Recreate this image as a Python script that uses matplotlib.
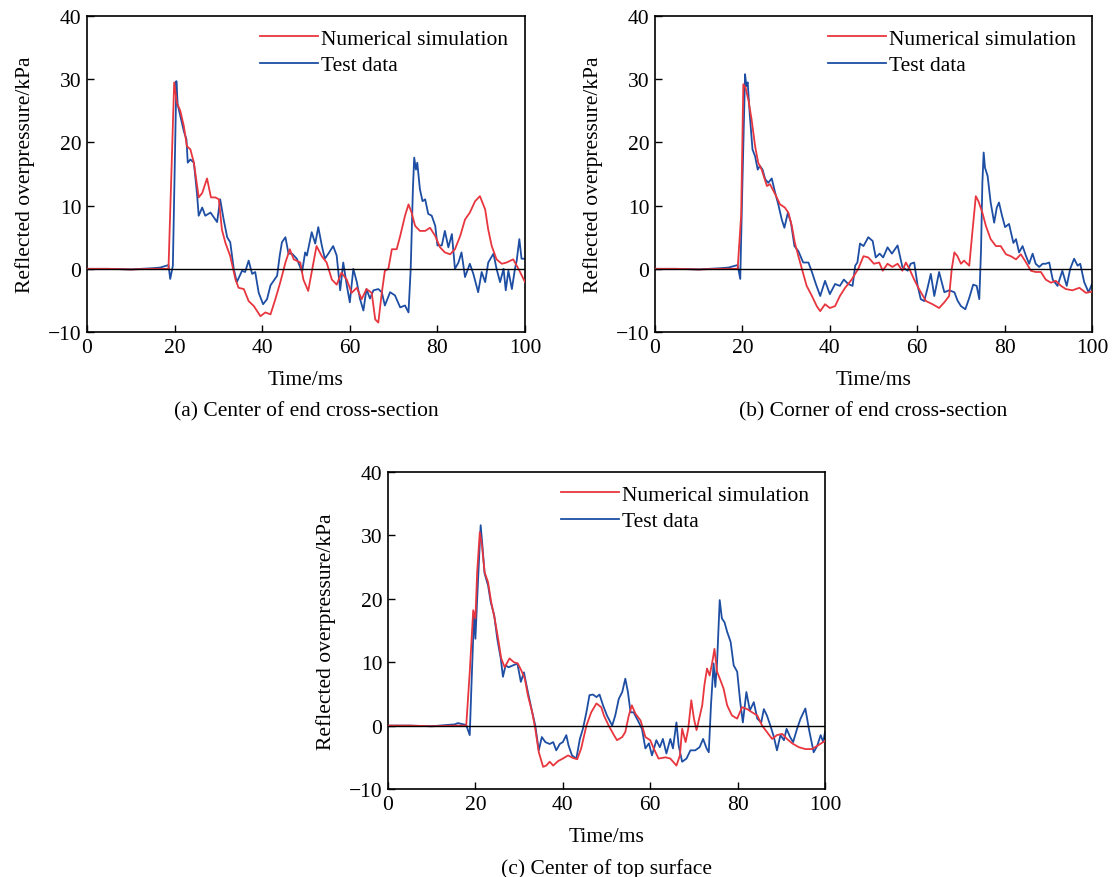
import matplotlib
matplotlib.use("Agg")
import matplotlib.pyplot as plt

plt.rcParams["font.family"] = ["Liberation Serif", "DejaVu Serif"]
plt.rcParams["font.size"] = 15.5

RED = "#e8363e"
BLUE = "#1d4ea3"

# (a) centre of end cross-section
t_a_sim = [0, 5, 10, 15, 18.6, 19.9, 20.5, 21.3, 22.1, 22.8, 23.6, 24.4, 25.5, 26.3, 27.4,
           28.3, 29.3, 30.1, 30.8, 31.6, 32.7, 33.9, 34.6, 35.8, 36.9, 38.1, 39.6, 40.7,
           41.9, 43.0, 44.1, 45.3, 46.3, 47.2, 48.7, 49.4, 50.5, 51.7, 52.4, 53.6, 54.7,
           55.9, 57.0, 58.1, 59.3, 60.4, 61.6, 62.7, 63.8, 65.0, 65.8, 66.5, 67.3, 68.0,
           68.8, 69.6, 70.7, 71.5, 72.6, 73.4, 74.1, 74.9, 76.0, 77.2, 78.3, 79.5, 80.6,
           81.7, 82.9, 84.0, 85.2, 86.3, 87.4, 88.6, 89.7, 90.9, 91.6, 92.4, 93.5, 94.7,
           95.8, 97.3, 98.5, 100]
p_a_sim = [0, 0, -0.1, 0, 0, 29.5, 26.3, 25.0, 22.6, 19.4, 18.9, 16.8, 11.3, 12.0, 14.3,
           11.3, 11.3, 11.0, 6.2, 4.1, 2.0, -1.7, -3.0, -3.2, -5.1, -5.9, -7.5, -6.9,
           -7.2, -4.8, -2.2, 1.0, 3.1, 1.5, 1.0, -1.7, -3.5, 1.0, 3.6, 2.0, 1.0,
           -1.7, -2.5, -0.6, -1.7, -3.8, -3.0, -4.8, -3.2, -3.8, -8.0, -8.5, -3.8, -0.3,
           0.0, 3.1, 3.1, 5.2, 8.4, 10.2, 8.9, 6.8, 6.0, 6.0, 6.5, 5.2, 3.4,
           2.6, 2.3, 3.1, 5.2, 7.8, 8.9, 10.7, 11.5, 9.4, 6.2, 3.6, 1.5, 0.8,
           1.0, 1.5, 0.0, -2.1]
t_a_test = [0, 5, 10, 15, 16.7, 18.6, 19.0, 19.6, 20.4, 20.7, 21.3, 22.1, 22.7, 23.0, 23.6,
            24.4, 25.1, 25.5, 26.3, 27.0, 28.2, 28.9, 29.7, 30.4, 31.2, 32.0, 32.7, 33.5,
            34.2, 35.4, 36.1, 36.9, 37.7, 38.4, 39.2, 40.2, 41.1, 41.9, 42.6, 43.4, 44.0,
            44.5, 45.3, 46.0, 46.8, 47.9, 49.1, 49.8, 50.2, 51.3, 52.1, 52.8, 53.6, 54.3,
            55.1, 56.2, 57.0, 57.8, 58.5, 59.3, 60.0, 60.8, 61.6, 62.3, 63.1, 63.8, 64.6,
            65.4, 66.5, 67.3, 68.0, 69.2, 70.3, 71.5, 72.6, 73.4, 73.9, 74.4, 74.7, 75.1,
            75.4, 76.0, 76.6, 77.2, 77.9, 78.7, 79.5, 80.0, 81.0, 81.7, 82.5, 83.3, 84.0,
            84.8, 85.5, 86.3, 87.4, 88.2, 89.3, 90.1, 90.9, 91.6, 92.8, 93.5, 94.3, 95.1,
            95.6, 96.2, 97.0, 97.7, 98.1, 98.7, 99.2, 100]
p_a_test = [0, 0, -0.1, 0.1, 0.2, 0.6, -1.6, 0.5, 29.7, 26.0, 24.2, 21.8, 20.5, 16.8, 17.3,
            16.8, 12.0, 8.4, 9.7, 8.4, 8.9, 8.2, 7.4, 11.0, 7.8, 5.0, 4.2, 0.0,
            -2.1, -0.3, -0.5, 1.3, -0.8, -0.5, -3.8, -5.6, -4.8, -2.6, -1.9, -1.1, 2.1,
            4.2, 5.0, 2.4, 2.4, 1.6, -0.5, 2.6, 2.1, 5.8, 4.0, 6.6, 3.7, 1.6,
            2.4, 3.6, 2.1, -3.4, 1.0, -2.6, -5.3, 0.0, -2.1, -4.7, -6.6, -3.2, -4.7,
            -3.4, -3.2, -3.7, -5.8, -3.7, -4.2, -6.1, -5.8, -6.9, 0.0, 12.6, 17.6, 15.7,
            16.8, 12.6, 10.7, 11.0, 8.7, 8.4, 6.8, 3.7, 3.7, 6.0, 3.4, 5.5, 0.0,
            1.0, 2.6, -1.3, 0.8, -0.8, -3.7, -0.5, -2.1, 1.0, 2.4, 0.0, -2.1, 0.0,
            -3.4, -0.3, -3.2, 0.0, 1.3, 4.7, 1.6, 1.6]

# (b) corner of end cross-section
t_b_sim = [0, 5, 10, 15, 18.9, 19.7, 20.2, 20.7, 21.4, 22.1, 22.9, 23.6, 24.4, 25.6, 26.3,
           27.5, 28.6, 29.7, 30.5, 31.3, 32.0, 32.8, 33.6, 34.7, 35.9, 37.0, 37.8, 38.9,
           40.0, 41.2, 42.3, 43.5, 45.0, 46.5, 47.7, 48.8, 50.1, 51.3, 52.1, 53.2, 54.3,
           55.5, 56.6, 57.4, 58.2, 59.3, 60.4, 62.0, 63.5, 65.0, 66.2, 67.3, 67.9, 68.5,
           69.2, 70.0, 70.7, 71.9, 72.6, 73.4, 74.0, 74.9, 75.7, 76.8, 78.0, 79.1, 80.3,
           81.4, 82.6, 83.7, 84.9, 86.0, 87.1, 88.3, 89.4, 90.6, 91.7, 92.9, 94.0, 95.5,
           97.1, 98.6, 100]
p_b_sim = [0, 0, -0.1, 0, 0, 8.4, 29.2, 28.7, 26.6, 23.6, 19.4, 16.8, 15.7, 13.1, 13.4,
           11.8, 10.2, 9.7, 8.9, 6.8, 4.1, 2.0, 0.0, -2.7, -4.3, -5.9, -6.7, -5.6,
           -6.2, -5.9, -4.3, -3.0, -1.7, 0.0, 2.0, 1.8, 0.8, 1.0, -0.3, 0.8, 0.3,
           0.8, -0.3, 1.0, 0.0, -1.7, -3.2, -5.1, -5.6, -6.2, -5.3, -4.3, 0.0, 2.6,
           2.0, 0.8, 1.3, 0.5, 5.7, 11.5, 10.7, 8.9, 6.8, 4.7, 3.6, 3.6, 2.3,
           2.0, 1.5, 2.3, 1.0, -0.3, -0.5, -0.5, -1.7, -2.2, -1.9, -2.7, -3.2, -3.4,
           -3.0, -3.8, -3.6]
t_b_test = [0, 5, 10, 15, 16.8, 18.9, 19.5, 20.0, 20.6, 20.9, 21.2, 21.7, 22.3, 22.9, 23.5,
            24.0, 24.6, 25.2, 25.9, 26.7, 27.5, 28.2, 29.0, 29.6, 30.4, 31.1, 31.9, 32.8,
            33.9, 35.1, 35.9, 36.8, 37.8, 38.9, 40.0, 41.2, 42.3, 43.2, 44.2, 45.2, 45.8,
            46.3, 46.9, 47.7, 48.8, 49.8, 50.5, 51.4, 52.2, 53.2, 54.2, 55.5, 56.6, 57.8,
            58.5, 59.3, 60.1, 60.8, 61.6, 62.3, 63.1, 63.9, 65.0, 66.2, 67.3, 68.5, 69.2,
            70.0, 71.0, 71.9, 72.8, 73.6, 74.2, 74.6, 74.9, 75.2, 75.5, 76.1, 76.8, 77.6,
            78.2, 78.7, 79.4, 80.1, 81.0, 82.0, 82.6, 83.3, 84.1, 84.9, 85.6, 86.4, 87.1,
            87.9, 88.7, 89.4, 90.2, 91.0, 92.1, 93.2, 94.2, 95.0, 95.9, 96.7, 97.3, 98.2,
            99.2, 100]
p_b_test = [0, 0, -0.1, 0.1, 0.2, 0.6, -1.6, 13.7, 30.8, 28.9, 29.5, 24.2, 18.9, 17.8, 15.7,
            16.3, 15.7, 14.2, 13.6, 14.3, 12.0, 10.2, 7.8, 6.5, 8.9, 7.3, 3.6, 2.8,
            1.0, 1.0, -0.5, -2.4, -4.3, -1.9, -4.0, -2.4, -2.7, -1.7, -2.4, -2.7, 0.5,
            1.0, 4.0, 3.6, 5.0, 4.4, 1.8, 2.4, 1.8, 3.4, 2.4, 3.7, 0.3, -0.3,
            0.8, 1.0, -2.7, -4.8, -5.1, -3.2, -0.8, -4.3, -0.5, -3.7, -3.4, -3.7, -5.0,
            -5.9, -6.4, -4.6, -2.5, -2.7, -4.8, 3.1, 13.6, 18.4, 16.0, 14.7, 10.5, 7.3,
            9.7, 10.5, 8.4, 6.6, 7.1, 4.1, 4.7, 2.6, 3.6, 2.0, 0.8, 2.4, 0.8,
            0.3, 0.8, 0.8, 1.0, -1.7, -2.7, -0.3, -2.7, 0.0, 1.6, 0.5, 0.8, -2.1,
            -3.7, -2.4]

# (c) centre of top surface
t_c_sim = [0, 5, 10, 15, 17.9, 18.7, 19.5, 20.0, 20.4, 21.0, 21.5, 22.1, 22.9, 23.6, 24.4,
           25.2, 25.9, 26.7, 27.8, 28.8, 29.7, 30.5, 31.3, 32.0, 33.0, 33.7, 34.5, 35.5,
           36.2, 37.0, 37.8, 38.9, 40.0, 41.2, 42.3, 43.3, 44.2, 45.4, 46.5, 47.7, 48.8,
           49.4, 50.5, 51.7, 52.4, 53.6, 54.3, 55.1, 55.8, 56.6, 57.8, 58.9, 60.0, 60.8,
           61.9, 63.5, 64.6, 66.0, 66.8, 67.3, 68.1, 68.7, 69.4, 70.0, 70.6, 71.2, 71.9,
           72.4, 73.0, 73.6, 74.2, 74.7, 75.3, 76.1, 76.8, 77.6, 78.7, 79.9, 81.0, 82.2,
           83.3, 84.5, 85.6, 86.7, 87.9, 89.0, 90.2, 91.3, 92.5, 94.0, 95.5, 97.0, 98.2,
           100]
p_c_sim = [0, 0, -0.1, 0, 0, 8.4, 18.2, 16.9, 24.2, 30.5, 28.4, 24.2, 22.6, 19.5, 16.9,
           13.7, 10.6, 9.2, 10.6, 10.0, 9.8, 8.7, 7.4, 4.8, 2.1, -0.5, -4.2, -6.5,
           -6.3, -5.7, -6.3, -5.6, -5.2, -4.7, -5.1, -5.3, -3.6, 0.0, 2.1, 3.5, 2.9,
           1.6, 0.0, -1.5, -2.3, -1.8, -1.0, 1.6, 3.2, 1.9, 0.8, -1.8, -2.3, -3.6,
           -5.2, -5.0, -5.2, -6.3, -4.7, -0.5, -2.6, -0.5, 4.0, 1.1, -0.7, 1.1, 3.2,
           6.4, 9.0, 7.9, 10.0, 12.1, 8.5, 7.1, 5.8, 3.2, 1.6, 1.1, 2.9, 2.6,
           2.1, 1.6, 0.0, -1.0, -2.1, -1.5, -1.3, -2.1, -2.8, -3.4, -3.7, -3.7, -3.2,
           -2.4]
t_c_test = [0, 5, 10, 15.3, 16.0, 17.9, 18.7, 19.2, 19.7, 20.0, 20.4, 21.2, 21.6, 22.1, 22.9,
            23.5, 24.3, 25.0, 25.8, 26.3, 26.9, 27.6, 28.6, 29.6, 30.4, 31.1, 32.0, 33.0,
            33.7, 34.5, 35.2, 36.0, 37.0, 37.8, 38.5, 39.3, 40.0, 40.8, 41.3, 42.1, 43.1,
            43.9, 44.6, 45.4, 46.1, 46.9, 47.7, 48.4, 49.2, 50.1, 51.3, 52.0, 52.8, 53.6,
            54.3, 54.9, 55.5, 56.2, 57.4, 58.1, 58.9, 59.7, 60.4, 61.4, 62.2, 62.9, 63.7,
            64.6, 65.2, 66.0, 66.5, 67.3, 68.3, 69.2, 70.3, 71.3, 72.1, 72.9, 73.4, 73.9,
            74.5, 74.9, 75.3, 75.9, 76.4, 77.0, 77.6, 78.4, 79.1, 79.9, 80.6, 81.2, 82.0,
            82.8, 83.7, 84.5, 85.4, 86.0, 86.7, 87.5, 88.3, 89.0, 89.8, 90.6, 91.2, 92.0,
            92.7, 93.6, 94.4, 95.5, 96.3, 97.4, 98.2, 99.0, 99.6, 100]
p_c_test = [0, 0, -0.1, 0.2, 0.4, 0.1, -1.5, 8.4, 17.7, 13.7, 20.0, 31.6, 28.4, 24.0, 22.1,
            19.5, 17.4, 13.7, 10.6, 7.7, 9.5, 9.2, 9.5, 9.8, 6.9, 8.4, 5.3, 2.1,
            0.0, -3.9, -1.8, -2.6, -2.9, -2.6, -3.9, -2.9, -2.6, -1.5, -3.1, -4.7, -5.2,
            -2.1, -0.5, 2.1, 4.8, 4.9, 4.5, 4.9, 3.2, 1.6, 0.0, 1.6, 4.2, 5.3,
            7.4, 5.3, 2.1, 2.1, 0.5, -0.5, -3.6, -2.8, -4.7, -2.3, -3.4, -2.1, -4.4,
            -2.1, -3.6, 0.5, -3.1, -5.7, -5.2, -3.9, -3.9, -3.4, -2.1, -3.6, -4.2, 3.2,
            9.8, 6.1, 10.0, 19.8, 16.9, 16.3, 14.8, 13.2, 9.5, 8.5, 3.7, 0.5, 5.3,
            2.4, 3.7, 1.1, 0.5, 2.6, 1.6, 0.0, -1.8, -3.9, -1.5, -2.3, -0.5, -1.8,
            -2.6, -0.5, 1.1, 2.7, -0.5, -4.2, -3.2, -1.5, -2.6, -1.0]

captions = ["(a) Center of end cross-section",
            "(b) Corner of end cross-section",
            "(c) Center of top surface"]
panels = [(t_a_sim, p_a_sim, t_a_test, p_a_test),
          (t_b_sim, p_b_sim, t_b_test, p_b_test),
          (t_c_sim, p_c_sim, t_c_test, p_c_test)]

fig = plt.figure(figsize=(11.14, 8.78), dpi=100)
axes = [fig.add_axes([0.0781, 0.6207, 0.3932, 0.3599]),
        fig.add_axes([0.5880, 0.6207, 0.3923, 0.3599]),
        fig.add_axes([0.3483, 0.1002, 0.3923, 0.3611])]

for ax, (ts, ps, tt, pt), cap in zip(axes, panels, captions):
    ax.plot(ts, ps, color=RED, lw=1.3, label="Numerical simulation", zorder=3)
    ax.plot(tt, pt, color=BLUE, lw=1.3, label="Test data", zorder=2)
    ax.axhline(0, color="black", lw=1.0, zorder=4)
    ax.set_xlim(0, 100)
    ax.set_ylim(-10, 40)
    ax.set_xticks(range(0, 101, 20))
    ax.set_yticks(range(-10, 41, 10))
    ax.tick_params(direction="in", length=5, width=1, pad=4, top=False, right=False)
    for sp in ax.spines.values():
        sp.set_linewidth(1.2)
    ax.set_xlabel("Time/ms", labelpad=10)
    ax.set_ylabel("Reflected overpressure/kPa", labelpad=9)
    ax.text(0.5, -0.25, cap, transform=ax.transAxes, ha="center", va="center")
    ax.legend(loc="upper left", bbox_to_anchor=(0.395, 0.96), frameon=False,
              borderpad=0, borderaxespad=0, handlelength=2.7, handletextpad=0.15,
              labelspacing=0.3)

fig.savefig("out.png", dpi=100)
